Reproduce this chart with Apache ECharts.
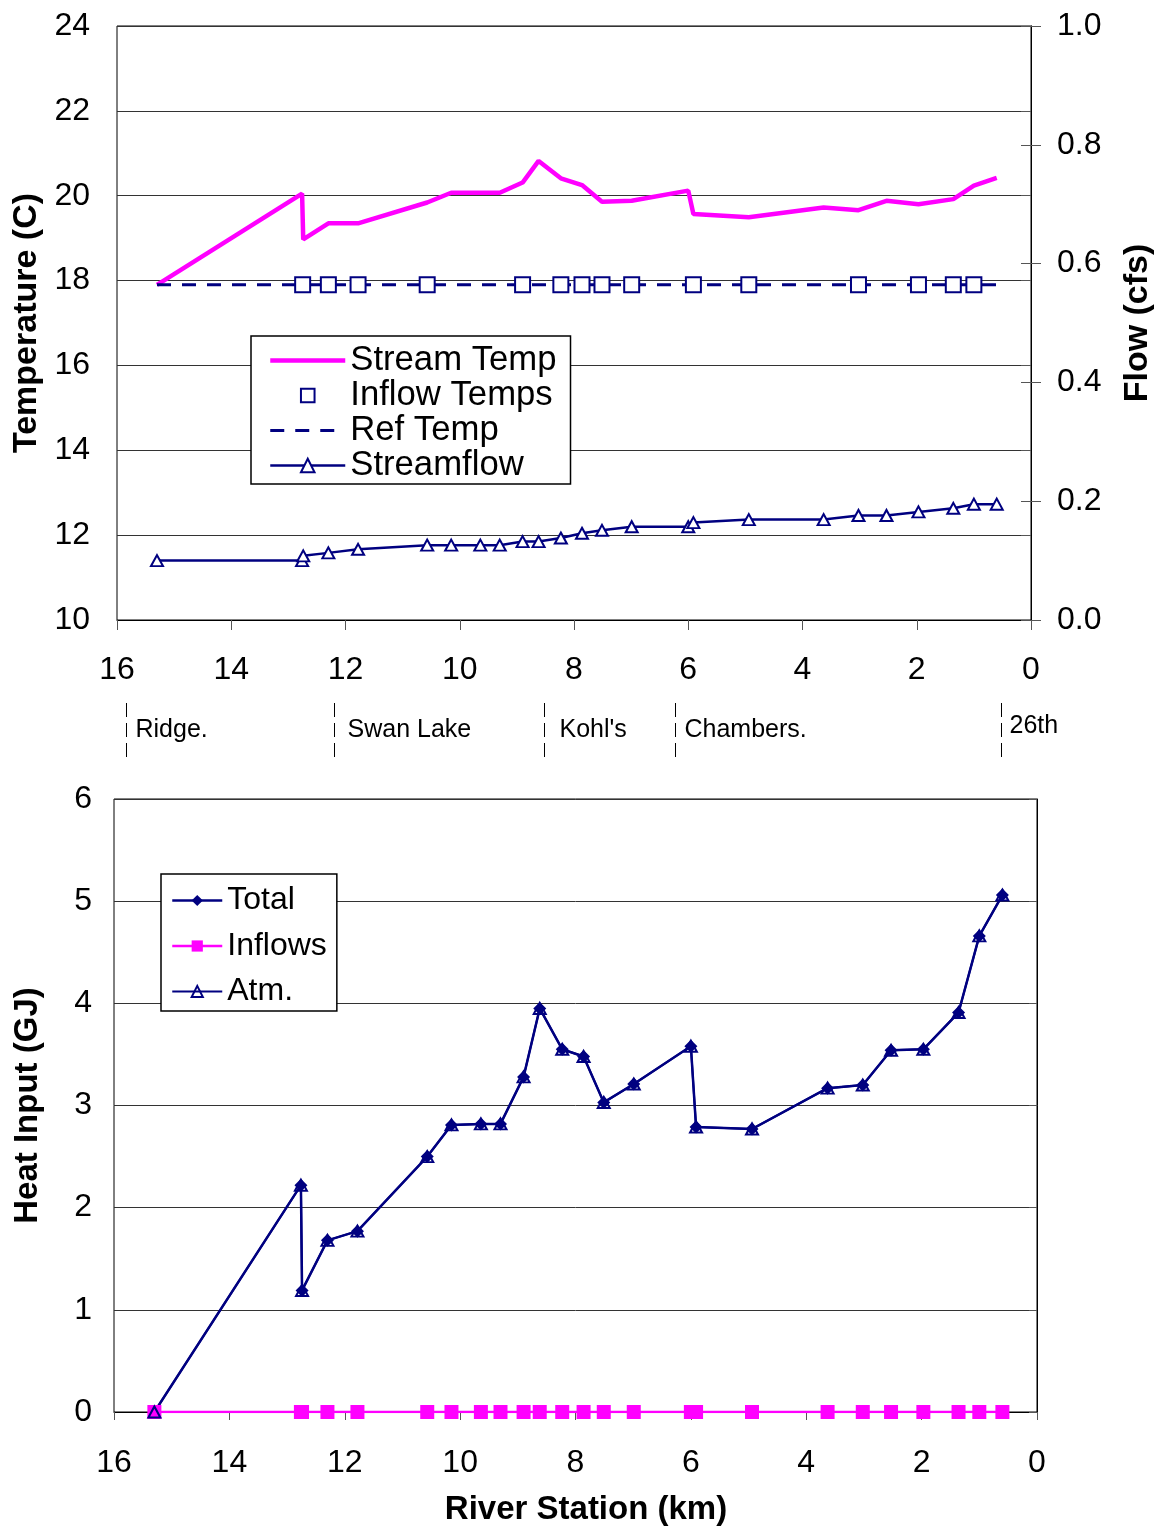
<!DOCTYPE html>
<html>
<head>
<meta charset="utf-8">
<script src="https://cdn.jsdelivr.net/npm/echarts@6/dist/echarts.min.js"></script>
<style>
  html, body { margin: 0; padding: 0; background: #fff; }
  #chart { width: 1163px; height: 1527px; }
</style>
</head>
<body>
<div id="chart"></div>
<script>
// River stations (km from the mouth), shared by both panels
const stationKm = [15.3, 12.76, 12.74, 12.3, 11.78, 10.57, 10.15, 9.64, 9.3, 8.9, 8.62, 8.23, 7.86,
  7.51, 6.99, 6.0, 5.91, 4.94, 3.63, 3.02, 2.53, 1.97, 1.36, 1.0, 0.6];

// Upper panel: temperatures (C) and flow (cfs)
const streamTemp = [17.9, 20.05, 18.97, 19.35, 19.35, 19.84, 20.07, 20.07, 20.07, 20.31, 20.82, 20.41, 20.25,
  19.86, 19.88, 20.12, 19.57, 19.49, 19.72, 19.66, 19.88, 19.80, 19.92, 20.24, 20.42];
const streamflow = [0.100, 0.100, 0.108, 0.113, 0.119, 0.126, 0.126, 0.126, 0.126, 0.132, 0.132, 0.138, 0.146,
  0.151, 0.157, 0.157, 0.164, 0.169, 0.169, 0.176, 0.176, 0.182, 0.188, 0.195, 0.195];
const inflowKm = [12.75, 12.3, 11.78, 10.57, 8.9, 8.23, 7.86, 7.51, 6.99, 5.91, 4.94, 3.02, 1.97, 1.36, 1.0];
const inflowTemp = [17.9, 17.9, 17.9, 17.9, 17.9, 17.9, 17.9, 17.9, 17.9, 17.9, 17.9, 17.9, 17.9, 17.9, 17.9];
const refKm = [15.3, 0.6];
const refTemp = [17.9, 17.9];

// Lower panel: cumulative heat input (GJ)
const totalHeat = [0, 2.22, 1.19, 1.68, 1.77, 2.50, 2.81, 2.82, 2.82, 3.28, 3.95, 3.55, 3.48,
  3.03, 3.21, 3.58, 2.79, 2.77, 3.17, 3.20, 3.54, 3.55, 3.91, 4.66, 5.06];
const inflowHeat = [0, 0, 0, 0, 0, 0, 0, 0, 0, 0, 0, 0, 0, 0, 0, 0, 0, 0, 0, 0, 0, 0, 0, 0, 0];
const atmHeat = [0, 2.22, 1.19, 1.68, 1.77, 2.50, 2.81, 2.82, 2.82, 3.28, 3.95, 3.55, 3.48,
  3.03, 3.21, 3.58, 2.79, 2.77, 3.17, 3.20, 3.54, 3.55, 3.91, 4.66, 5.06];

// Landmarks along the river
const siteKm = [15.84, 12.2, 8.53, 6.23, 0.525];
const siteNames = ['Ridge.', 'Swan Lake', "Kohl's", 'Chambers.', '26th'];

const FONT = 'Liberation Sans, Arial, sans-serif';
const NAVY = '#000080';
const MAGENTA = '#FF00FF';

const pairs = (xs, ys) => xs.map((x, i) => [x, ys[i]]);

const chart = echarts.init(document.getElementById('chart'), null, { renderer: 'canvas' });

const axisText = { color: '#000', fontSize: 32, fontFamily: FONT };
const nameTop = { color: '#000', fontSize: 34, fontWeight: 'bold', fontFamily: FONT };
const nameBottom = { color: '#000', fontSize: 33, fontWeight: 'bold', fontFamily: FONT };

const option = {
  backgroundColor: '#fff',
  animation: false,
  grid: [
    { left: 117, right: 132, top: 26, height: 594, show: true, borderColor: '#000', borderWidth: 1 },
    { left: 114, right: 126, top: 799, height: 614, show: true, borderColor: '#000', borderWidth: 1 }
  ],
  legend: [
    {
      orient: 'vertical', left: 251, top: 336,
      padding: [7, 14, 1, 17],
      backgroundColor: '#fff', borderColor: '#000', borderWidth: 1.5,
      itemWidth: 75, itemHeight: 17, itemGap: 0,
      lineStyle: { width: 'inherit' },
      textStyle: { color: '#000', fontSize: 34.7, fontFamily: FONT, lineHeight: 34.7 },
      data: [
        { name: 'Stream Temp', itemStyle: { opacity: 0 } },
        { name: 'Inflow Temps' },
        { name: 'Ref Temp', itemStyle: { opacity: 0 } },
        { name: 'Streamflow' }
      ]
    },
    {
      orient: 'vertical', left: 161, top: 874,
      padding: [7, 10, 0, 10],
      backgroundColor: '#fff', borderColor: '#000', borderWidth: 1.5,
      itemWidth: 50, itemHeight: 14, itemGap: 6.5,
      lineStyle: { width: 'inherit' },
      textStyle: { color: '#000', fontSize: 32, fontFamily: FONT, lineHeight: 39 },
      data: ['Total', 'Inflows', 'Atm.']
    }
  ],
  xAxis: [
    {
      gridIndex: 0, type: 'value', inverse: true, min: 0, max: 16, interval: 2,
      axisLine: { lineStyle: { color: '#000', width: 1 } },
      axisTick: { length: 10, lineStyle: { color: '#555' } },
      axisLabel: Object.assign({ margin: 34 }, axisText),
      splitLine: { show: false }
    },
    {
      gridIndex: 1, type: 'value', inverse: true, min: 0, max: 16, interval: 2,
      name: 'River Station (km)', nameLocation: 'middle', nameGap: 81,
      nameTextStyle: Object.assign({ padding: [0, 0, 0, 21] }, nameBottom),
      axisLine: { lineStyle: { color: '#000', width: 1 } },
      axisTick: { length: 8, lineStyle: { color: '#555' } },
      axisLabel: Object.assign({ margin: 35 }, axisText),
      splitLine: { show: false }
    }
  ],
  yAxis: [
    {
      gridIndex: 0, type: 'value', min: 10, max: 24, interval: 2,
      name: 'Temperature (C)', nameLocation: 'middle', nameGap: 72,
      nameTextStyle: nameTop,
      axisLine: { show: true, lineStyle: { color: '#000', width: 1 } },
      axisTick: { show: true, length: 10, lineStyle: { color: '#555' } },
      axisLabel: Object.assign({ margin: 27 }, axisText),
      splitLine: { show: true, lineStyle: { color: '#333', width: 1 } }
    },
    {
      gridIndex: 0, type: 'value', position: 'right', min: 0, max: 1, interval: 0.2,
      name: 'Flow (cfs)', nameLocation: 'middle', nameGap: 90,
      nameTextStyle: nameTop,
      axisLine: { show: true, lineStyle: { color: '#000', width: 1 } },
      axisTick: { show: true, length: 10, lineStyle: { color: '#555' } },
      axisLabel: Object.assign({ margin: 26, formatter: v => v.toFixed(1) }, axisText),
      splitLine: { show: false }
    },
    {
      gridIndex: 0, type: 'value', position: 'right', min: 0, max: 1, interval: 0.2,
      axisLine: { show: false },
      axisTick: { show: true, inside: true, length: 10, lineStyle: { color: '#555' } },
      axisLabel: { show: false },
      splitLine: { show: false }
    },
    {
      gridIndex: 1, type: 'value', min: 0, max: 6, interval: 1,
      name: 'Heat Input (GJ)', nameLocation: 'middle', nameGap: 70,
      nameTextStyle: nameBottom,
      axisLine: { show: true, lineStyle: { color: '#000', width: 1 } },
      axisTick: { show: true, length: 8, lineStyle: { color: '#555' } },
      axisLabel: Object.assign({ margin: 22 }, axisText),
      splitLine: { show: true, lineStyle: { color: '#333', width: 1 } }
    }
  ],
  series: [
    {
      name: 'Stream Temp', type: 'line', xAxisIndex: 0, yAxisIndex: 0,
      data: pairs(stationKm, streamTemp),
      symbol: 'none',
      lineStyle: { color: MAGENTA, width: 4.5 },
      itemStyle: { color: MAGENTA }
    },
    {
      // markers only: the connecting line is hidden
      name: 'Inflow Temps', type: 'line', xAxisIndex: 0, yAxisIndex: 0,
      data: pairs(inflowKm, inflowTemp),
      symbol: 'emptyRect', symbolSize: 15, showAllSymbol: true,
      lineStyle: { color: NAVY, width: 0, opacity: 0 },
      itemStyle: { color: NAVY, borderWidth: 2 }
    },
    {
      name: 'Ref Temp', type: 'line', xAxisIndex: 0, yAxisIndex: 0,
      data: pairs(refKm, refTemp),
      symbol: 'none',
      lineStyle: { color: NAVY, width: 3, type: [14, 11] },
      itemStyle: { color: NAVY }
    },
    {
      name: 'Streamflow', type: 'line', xAxisIndex: 0, yAxisIndex: 1,
      data: pairs(stationKm, streamflow),
      symbol: 'emptyTriangle', symbolSize: [12, 11], showAllSymbol: true,
      lineStyle: { color: NAVY, width: 2.5 },
      itemStyle: { color: NAVY, borderWidth: 2 }
    },
    {
      name: 'Total', type: 'line', xAxisIndex: 1, yAxisIndex: 3,
      data: pairs(stationKm, totalHeat),
      symbol: 'diamond', symbolSize: 13, showAllSymbol: true,
      lineStyle: { color: NAVY, width: 2.5 },
      itemStyle: { color: NAVY }
    },
    {
      name: 'Inflows', type: 'line', xAxisIndex: 1, yAxisIndex: 3,
      data: pairs(stationKm, inflowHeat),
      symbol: 'rect', symbolSize: 14, showAllSymbol: true,
      lineStyle: { color: MAGENTA, width: 2.5 },
      itemStyle: { color: MAGENTA }
    },
    {
      // outlined triangles with no fill, so the markers beneath stay visible
      name: 'Atm.', type: 'line', xAxisIndex: 1, yAxisIndex: 3,
      data: pairs(stationKm, atmHeat),
      symbol: 'triangle', symbolSize: [12, 11], showAllSymbol: true,
      lineStyle: { color: NAVY, width: 2 },
      itemStyle: { color: 'rgba(255,255,255,0)', borderColor: NAVY, borderWidth: 2 }
    }
  ]
};

chart.setOption(option);

// Landmark markers under the upper panel, placed on the upper x scale
const siteTextGap = [9, 13, 15, 9, 8];
const siteGraphics = [];
siteKm.forEach((km, i) => {
  const x = Math.round(chart.convertToPixel({ xAxisIndex: 0 }, km)) + 0.5;
  siteGraphics.push({
    type: 'line', silent: true,
    shape: { x1: x, y1: 703, x2: x, y2: 757 },
    style: { stroke: '#000', lineWidth: 1, lineDash: [14, 6] }
  });
  siteGraphics.push({
    type: 'text', silent: true,
    x: x + siteTextGap[i], y: i === siteKm.length - 1 ? 726 : 730,
    style: {
      text: siteNames[i], fill: '#000', fontSize: 25, fontFamily: FONT,
      verticalAlign: 'middle', align: 'left'
    }
  });
});
chart.setOption({ graphic: siteGraphics });
</script>
</body>
</html>
